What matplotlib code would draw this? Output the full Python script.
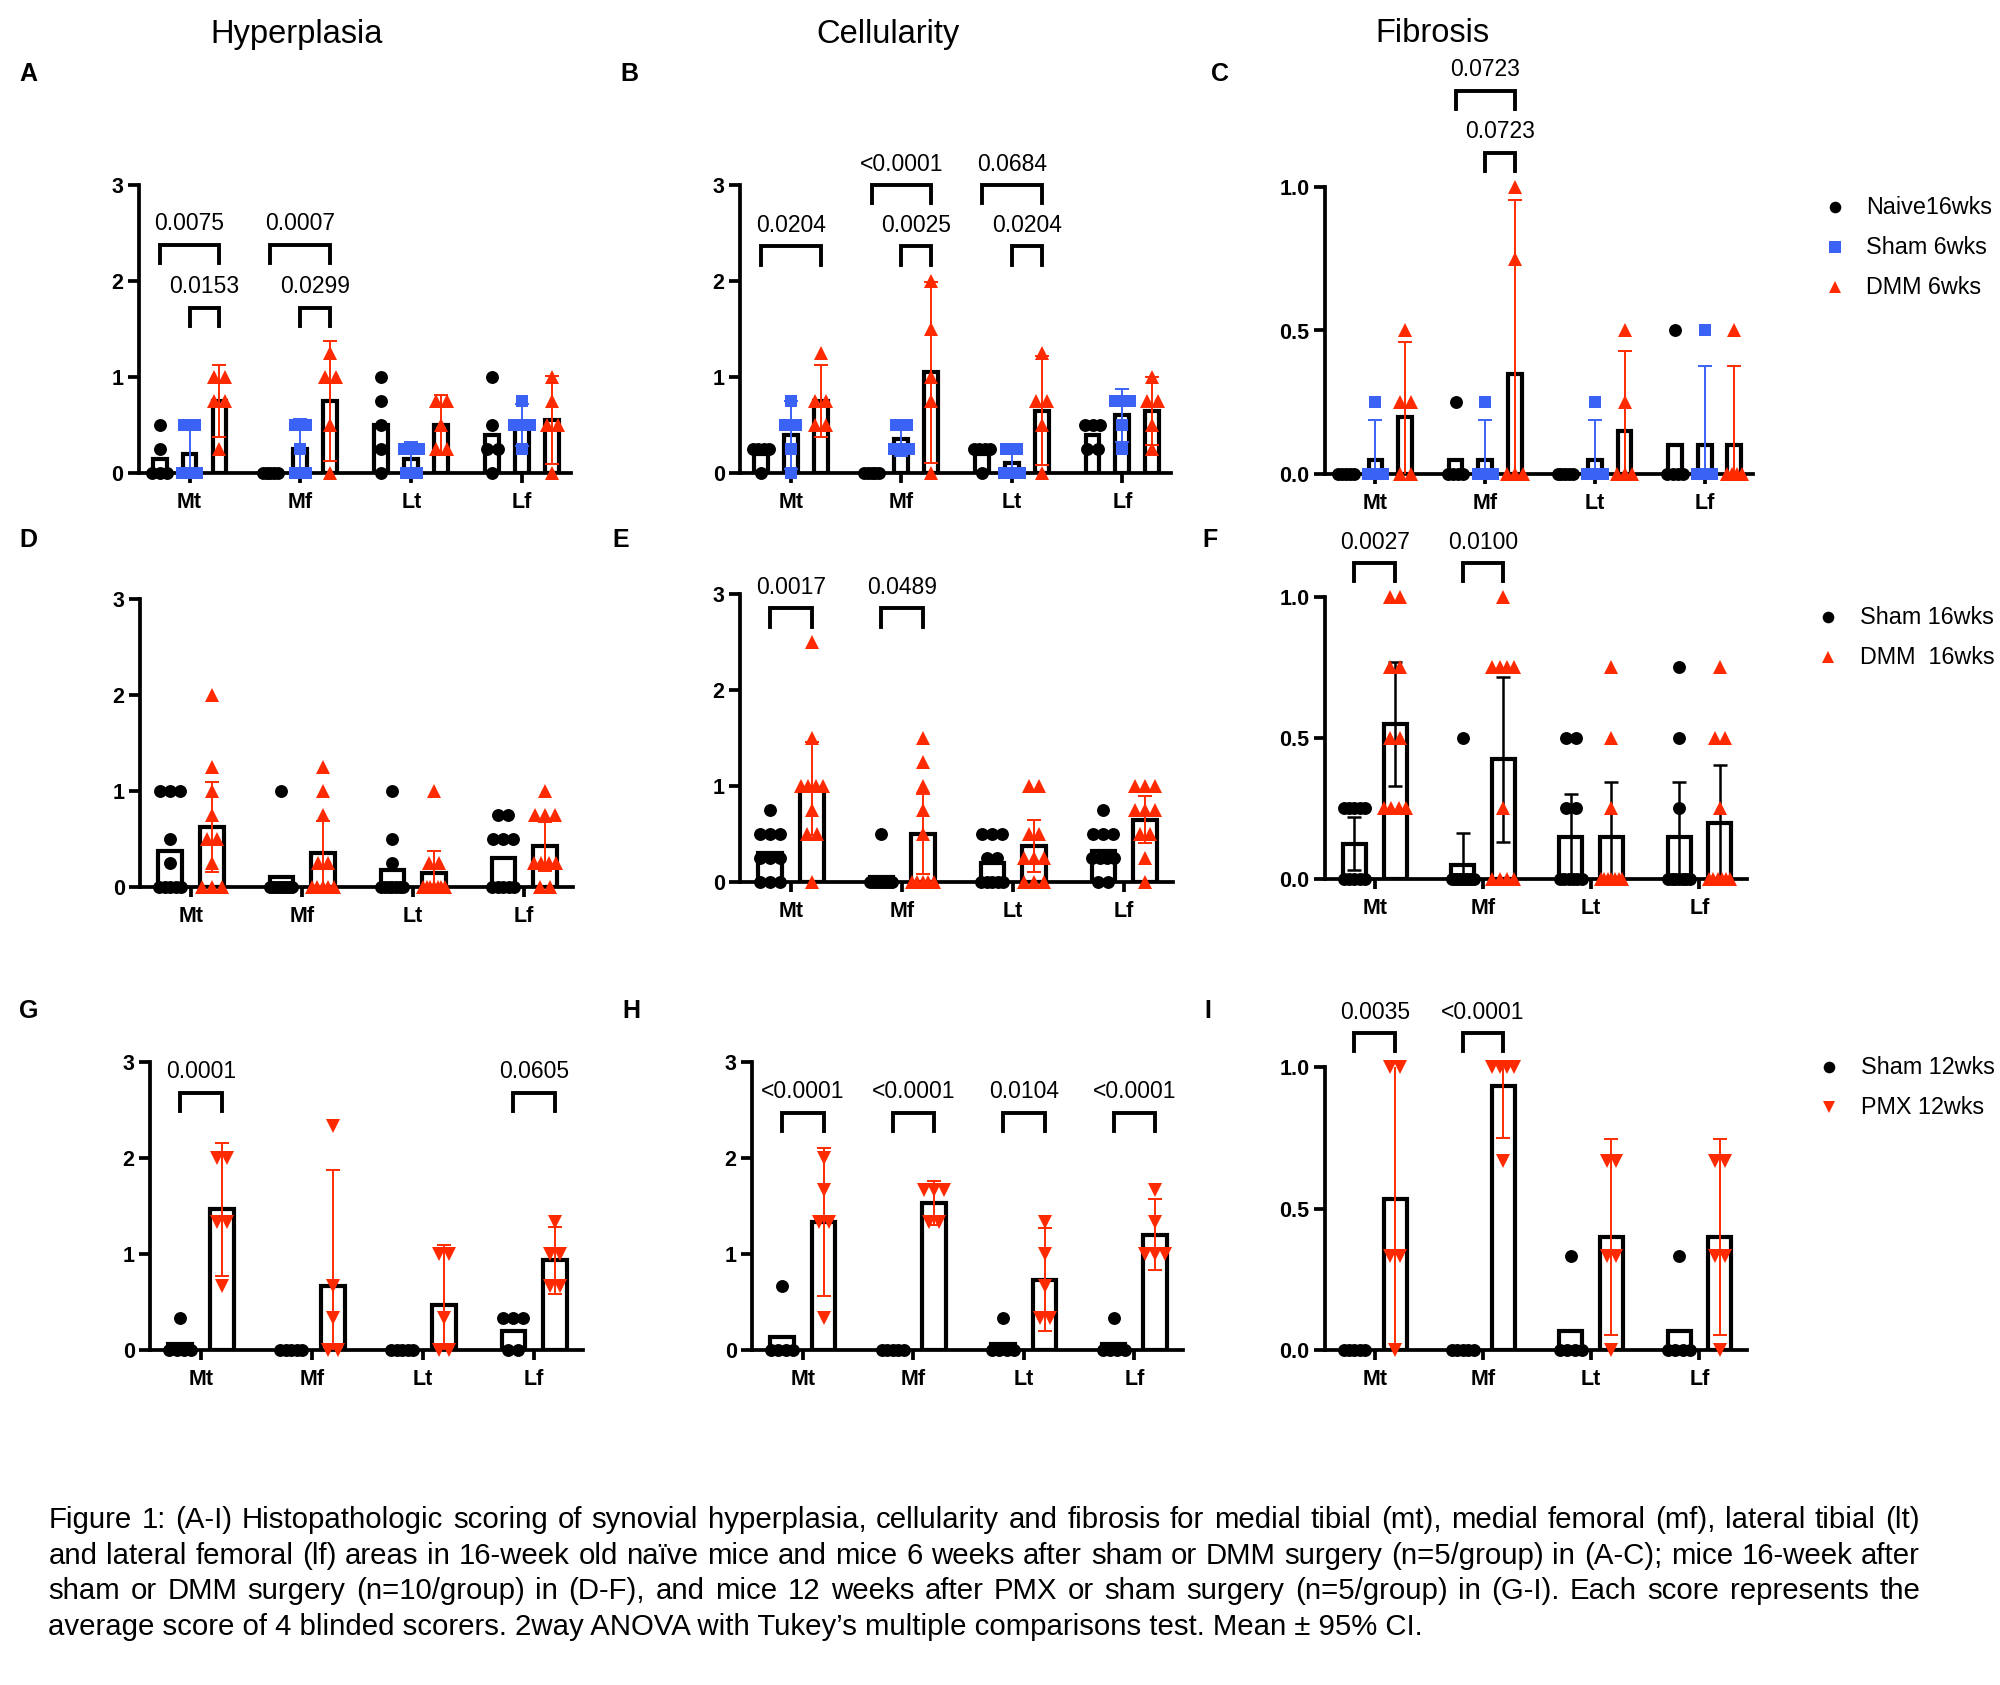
import numpy as np
import matplotlib
matplotlib.use("Agg")
import matplotlib.pyplot as plt
from matplotlib.lines import Line2D

plt.rcParams["font.family"] = ["Liberation Sans", "DejaVu Sans"]

FIG_W, FIG_H = 2000, 1685
BLACK = "black"
BLUE = "#3A62F5"
RED = "#FF2A00"

regions = ["Mt", "Mf", "Lt", "Lf"]

# 95% two-sided t quantiles by group size
T975 = {5: 2.776, 10: 2.262}

# ---- A: hyperplasia, naive 16wks / sham 6wks / DMM 6wks (n=5)
a_naive = [[0.5, 0.25, 0, 0, 0], [0, 0, 0, 0, 0], [1, 0.75, 0.5, 0.25, 0], [1, 0.5, 0.25, 0.25, 0]]
a_sham = [[0.5, 0.5, 0, 0, 0], [0.5, 0.5, 0.25, 0, 0], [0.25, 0.25, 0.25, 0, 0], [0.75, 0.5, 0.5, 0.5, 0.25]]
a_dmm = [[1, 1, 0.75, 0.75, 0.25], [1.25, 1, 1, 0.5, 0], [0.75, 0.75, 0.5, 0.25, 0.25], [1, 0.75, 0.5, 0.5, 0]]
a_brackets = [(0, 0, 2, 2.38, "0.0075"), (0, 1, 2, 1.72, "0.0153"),
              (1, 0, 2, 2.38, "0.0007"), (1, 1, 2, 1.72, "0.0299")]

# ---- B: cellularity, 6wks
b_naive = [[0.25, 0.25, 0.25, 0.25, 0], [0, 0, 0, 0, 0], [0.25, 0.25, 0.25, 0.25, 0], [0.5, 0.5, 0.5, 0.25, 0.25]]
b_sham = [[0.75, 0.5, 0.5, 0.25, 0], [0.5, 0.5, 0.25, 0.25, 0.25], [0.25, 0.25, 0, 0, 0], [0.75, 0.75, 0.75, 0.5, 0.25]]
b_dmm = [[1.25, 0.75, 0.75, 0.5, 0.5], [2, 1.5, 1, 0.75, 0], [1.25, 0.75, 0.75, 0.5, 0], [1, 0.75, 0.75, 0.5, 0.25]]
b_brackets = [(0, 0, 2, 2.36, "0.0204"),
              (1, 0, 2, 3.0, "<0.0001"), (1, 1, 2, 2.36, "0.0025"),
              (2, 0, 2, 3.0, "0.0684"), (2, 1, 2, 2.36, "0.0204")]

# ---- C: fibrosis, 6wks
c_naive = [[0, 0, 0, 0, 0], [0.25, 0, 0, 0, 0], [0, 0, 0, 0, 0], [0.5, 0, 0, 0, 0]]
c_sham = [[0.25, 0, 0, 0, 0], [0.25, 0, 0, 0, 0], [0.25, 0, 0, 0, 0], [0.5, 0, 0, 0, 0]]
c_dmm = [[0.5, 0.25, 0.25, 0, 0], [1, 0.75, 0, 0, 0], [0.5, 0.25, 0, 0, 0], [0.5, 0, 0, 0, 0]]
c_brackets = [(1, 0, 2, 1.336, "0.0723"), (1, 1, 2, 1.119, "0.0723")]

# ---- D: hyperplasia, sham 16wks / DMM 16wks (n=10)
d_sham = [[1, 1, 1, 0.5, 0.25, 0, 0, 0, 0, 0], [1, 0, 0, 0, 0, 0, 0, 0, 0, 0],
          [1, 0.5, 0.25, 0, 0, 0, 0, 0, 0, 0], [0.75, 0.75, 0.5, 0.5, 0.5, 0, 0, 0, 0, 0]]
d_dmm = [[2, 1.25, 1, 0.75, 0.5, 0.5, 0.25, 0, 0, 0], [1.25, 1, 0.75, 0.25, 0.25, 0, 0, 0, 0, 0],
         [1, 0.25, 0.25, 0, 0, 0, 0, 0, 0, 0], [1, 0.75, 0.75, 0.75, 0.25, 0.25, 0.25, 0.25, 0, 0]]

# ---- E: cellularity, 16wks
e_sham = [[0.75, 0.5, 0.5, 0.5, 0.25, 0.25, 0.25, 0, 0, 0], [0.5, 0, 0, 0, 0, 0, 0, 0, 0, 0],
          [0.5, 0.5, 0.5, 0.25, 0.25, 0, 0, 0, 0, 0], [0.75, 0.5, 0.5, 0.5, 0.25, 0.25, 0.25, 0.25, 0, 0]]
e_dmm = [[2.5, 1.5, 1, 1, 1, 1, 0.75, 0.5, 0.5, 0], [1.5, 1.25, 1, 0.75, 0.5, 0, 0, 0, 0, 0],
         [1, 1, 0.5, 0.5, 0.25, 0.25, 0.25, 0, 0, 0], [1, 1, 1, 0.75, 0.75, 0.75, 0.5, 0.5, 0.25, 0]]
e_brackets = [(0, 0, 1, 2.85, "0.0017"), (1, 0, 1, 2.85, "0.0489")]

# ---- F: fibrosis, 16wks
f_sham = [[0.25, 0.25, 0.25, 0.25, 0.25, 0, 0, 0, 0, 0], [0.5, 0, 0, 0, 0, 0, 0, 0, 0, 0],
          [0.5, 0.5, 0.25, 0.25, 0, 0, 0, 0, 0, 0], [0.75, 0.5, 0.25, 0, 0, 0, 0, 0, 0, 0]]
f_dmm = [[1, 1, 0.75, 0.75, 0.5, 0.5, 0.25, 0.25, 0.25, 0.25], [1, 0.75, 0.75, 0.75, 0.75, 0.25, 0, 0, 0, 0],
         [0.75, 0.5, 0.25, 0, 0, 0, 0, 0, 0, 0], [0.75, 0.5, 0.5, 0.25, 0, 0, 0, 0, 0, 0]]
f_brackets = [(0, 0, 1, 1.12, "0.0027"), (1, 0, 1, 1.12, "0.0100")]

# ---- G: hyperplasia, sham 12wks / PMX 12wks (n=5)
g_sham = [[0.333, 0, 0, 0, 0], [0, 0, 0, 0, 0], [0, 0, 0, 0, 0], [0.333, 0.333, 0.333, 0, 0]]
g_pmx = [[2, 2, 1.333, 1.333, 0.667], [2.333, 0.667, 0.333, 0, 0], [1, 1, 0.333, 0, 0], [1.333, 1, 1, 0.667, 0.667]]
g_brackets = [(0, 0, 1, 2.68, "0.0001"), (3, 0, 1, 2.68, "0.0605")]

# ---- H: cellularity, 12wks
h_sham = [[0.667, 0, 0, 0, 0], [0, 0, 0, 0, 0], [0.333, 0, 0, 0, 0], [0.333, 0, 0, 0, 0]]
h_pmx = [[2, 1.667, 1.333, 1.333, 0.333], [1.667, 1.667, 1.667, 1.333, 1.333],
         [1.333, 1, 0.667, 0.333, 0.333], [1.667, 1.333, 1, 1, 1]]
h_brackets = [(0, 0, 1, 2.47, "<0.0001"), (1, 0, 1, 2.47, "<0.0001"),
              (2, 0, 1, 2.47, "0.0104"), (3, 0, 1, 2.47, "<0.0001")]

# ---- I: fibrosis, 12wks
i_sham = [[0, 0, 0, 0, 0], [0, 0, 0, 0, 0], [0.333, 0, 0, 0, 0], [0.333, 0, 0, 0, 0]]
i_pmx = [[1, 1, 0.333, 0.333, 0], [1, 1, 1, 1, 0.667], [0.667, 0.667, 0.333, 0.333, 0], [0.667, 0.667, 0.333, 0.333, 0]]
i_brackets = [(0, 0, 1, 1.12, "0.0035"), (1, 0, 1, 1.12, "<0.0001")]

col_titles = ["Hyperplasia", "Cellularity", "Fibrosis"]
legend_6wk = [("Naive16wks", BLACK, "o"), ("Sham 6wks", BLUE, "s"), ("DMM 6wks", RED, "^")]
legend_16wk = [("Sham 16wks", BLACK, "o"), ("DMM  16wks", RED, "^")]
legend_12wk = [("Sham 12wks", BLACK, "o"), ("PMX 12wks", RED, "v")]

caption_lines = [
    "Figure 1: (A-I) Histopathologic scoring of synovial hyperplasia, cellularity and fibrosis for medial tibial (mt), medial femoral (mf), lateral tibial (lt)",
    "and lateral femoral (lf) areas in 16-week old naïve mice and mice 6 weeks after sham or DMM surgery (n=5/group) in (A-C); mice 16-week after",
    "sham or DMM surgery (n=10/group) in (D-F), and mice 12 weeks after PMX or sham surgery (n=5/group) in (G-I). Each score represents the",
    "average score of 4 blinded scorers. 2way ANOVA with Tukey\u2019s multiple comparisons test. Mean \u00b1 95% CI.",
]


def fx(px):
    return px / FIG_W


def fy(py):
    return 1 - py / FIG_H


def add_axes(fig, box):
    left, top, right, bottom = box
    return fig.add_axes([fx(left), fy(bottom), fx(right - left), (bottom - top) / FIG_H])


MS = {"o": 9.3, "s": 8.8, "^": 10.2, "v": 10.2}


def draw_panel(ax, series, ymax, yticks, ylabels, brackets):
    if len(series) == 3:
        offs = [-0.27, 0.0, 0.27]
        bw = 0.125
        spread_max, spread_step = 0.14, 0.1
    else:
        offs = [-0.1875, 0.1875]
        bw = 0.212
        spread_max, spread_step = 0.2, 0.09

    for (data, color, marker, err_color), off in zip(series, offs):
        for g, vals in enumerate(data):
            vals = np.asarray(vals, dtype=float)
            x = g + off
            mean = vals.mean()
            ax.bar(x, mean, width=bw, facecolor="none", edgecolor="black",
                   linewidth=3.0, zorder=2)
            if err_color is not None:
                half = T975[len(vals)] * vals.std(ddof=1) / np.sqrt(len(vals))
                lw = 1.8 if err_color == BLACK else 1.4
                ax.errorbar(x, mean, yerr=half, fmt="none", ecolor=err_color,
                            elinewidth=lw, capsize=4.8, capthick=lw, zorder=3)
            # spread tied values side by side, like a Prism scatter
            xs, ys = [], []
            uniq, counts = np.unique(vals, return_counts=True)
            for u, k in zip(uniq, counts):
                total = min(spread_max, spread_step * (k - 1))
                xs.extend(x + np.linspace(-total / 2, total / 2, k))
                ys.extend([u] * k)
            ax.plot(xs, ys, linestyle="none", marker=marker, color=color,
                    ms=MS[marker], markeredgewidth=0, clip_on=False, zorder=4)

    leg = 0.063 * ymax
    for g, i, j, y, label in brackets:
        x1, x2 = g + offs[i], g + offs[j]
        ax.plot([x1, x1, x2, x2], [y - leg, y, y, y - leg], color="black", lw=2.8,
                solid_joinstyle="miter", clip_on=False, zorder=5)
        ax.text((x1 + x2) / 2, y + 0.05 * ymax, label, ha="center", va="baseline",
                fontsize=16.5, clip_on=False)

    ax.set_xlim(-0.46, 3.44)
    ax.set_ylim(0, ymax)
    for side in ["top", "right"]:
        ax.spines[side].set_visible(False)
    for side in ["left", "bottom"]:
        ax.spines[side].set_linewidth(2.7)
    ax.set_xticks(range(len(regions)), regions)
    ax.set_yticks(yticks, ylabels)
    ax.tick_params(axis="both", direction="out", width=2.7, labelsize=15.5)
    ax.tick_params(axis="x", length=7.5, pad=6)
    ax.tick_params(axis="y", length=8, pad=3)
    for lab in ax.get_xticklabels() + ax.get_yticklabels():
        lab.set_fontweight("bold")
    ax.patch.set_visible(False)


def draw_legend(fig, entries, x_marker, x_text, y0, dy):
    for n, (label, color, marker) in enumerate(entries):
        y = y0 + n * dy
        fig.add_artist(Line2D([fx(x_marker)], [fy(y)], transform=fig.transFigure,
                              marker=marker, color=color, ms=MS[marker] * 0.9,
                              markeredgewidth=0, linestyle="none"))
        fig.text(fx(x_text), fy(y), label, fontsize=16.8, va="center", ha="left")


def justified_line(fig, renderer, line, x0, x1, y, size):
    words = line.split(" ")
    arts = [fig.text(0, fy(y), w, fontsize=size, va="baseline", ha="left") for w in words]
    widths = [a.get_window_extent(renderer).width for a in arts]
    gap = ((x1 - x0) - sum(widths)) / (len(words) - 1)
    x = x0
    for a, w in zip(arts, widths):
        a.set_x(fx(x))
        x += w + gap


fig = plt.figure(figsize=(FIG_W / 100, FIG_H / 100), dpi=100)

ticks3 = ([0, 1, 2, 3], ["0", "1", "2", "3"])
ticks1 = ([0, 0.5, 1.0], ["0.0", "0.5", "1.0"])

panels = [
    ("A", (138.5, 185, 571, 473), [(a_naive, BLACK, "o", None), (a_sham, BLUE, "s", BLUE), (a_dmm, RED, "^", RED)], 3, ticks3, a_brackets),
    ("B", (740, 185, 1171, 473), [(b_naive, BLACK, "o", None), (b_sham, BLUE, "s", BLUE), (b_dmm, RED, "^", RED)], 3, ticks3, b_brackets),
    ("C", (1325, 187, 1753, 474), [(c_naive, BLACK, "o", None), (c_sham, BLUE, "s", BLUE), (c_dmm, RED, "^", RED)], 1, ticks1, c_brackets),
    ("D", (140, 599, 573, 887), [(d_sham, BLACK, "o", None), (d_dmm, RED, "^", RED)], 3, ticks3, []),
    ("E", (740, 594, 1173, 882), [(e_sham, BLACK, "o", None), (e_dmm, RED, "^", RED)], 3, ticks3, e_brackets),
    ("F", (1325, 597, 1747, 879), [(f_sham, BLACK, "o", BLACK), (f_dmm, RED, "^", BLACK)], 1, ticks1, f_brackets),
    ("G", (150, 1062, 583, 1350), [(g_sham, BLACK, "o", None), (g_pmx, RED, "v", RED)], 3, ticks3, g_brackets),
    ("H", (752, 1062, 1183, 1350), [(h_sham, BLACK, "o", None), (h_pmx, RED, "v", RED)], 3, ticks3, h_brackets),
    ("I", (1325, 1067, 1747, 1350), [(i_sham, BLACK, "o", None), (i_pmx, RED, "v", RED)], 1, ticks1, i_brackets),
]

letter_pos = {"A": (19, 74), "B": (620, 74), "C": (1211, 74),
              "D": (19, 540), "E": (612, 540), "F": (1202, 540),
              "G": (19, 1011), "H": (622, 1011), "I": (1204, 1011)}

for letter, box, series, ymax, ticks, brackets in panels:
    ax = add_axes(fig, box)
    draw_panel(ax, series, ymax, ticks[0], ticks[1], brackets)
    lx, ly = letter_pos[letter]
    fig.text(fx(lx), fy(ly), letter, fontsize=18, fontweight="bold", ha="left", va="center")

for title, cx in zip(col_titles, [297, 888, 1432]):
    fig.text(fx(cx), fy(34), title, fontsize=23.5, ha="center", va="center")

draw_legend(fig, legend_6wk, 1835, 1866, 207, 40)
draw_legend(fig, legend_16wk, 1828, 1860, 617, 40)
draw_legend(fig, legend_12wk, 1829, 1861, 1067, 40)

renderer = fig.canvas.get_renderer()
cap_size = 21.2
baselines = [1528, 1563.5, 1599, 1634.5]
for n, line in enumerate(caption_lines):
    if n < len(caption_lines) - 1:
        justified_line(fig, renderer, line, 48.5, 1920, baselines[n], cap_size)
    else:
        fig.text(fx(48.5), fy(baselines[n]), line, fontsize=cap_size, va="baseline", ha="left")

fig.savefig("out.png", dpi=100, facecolor="white")
